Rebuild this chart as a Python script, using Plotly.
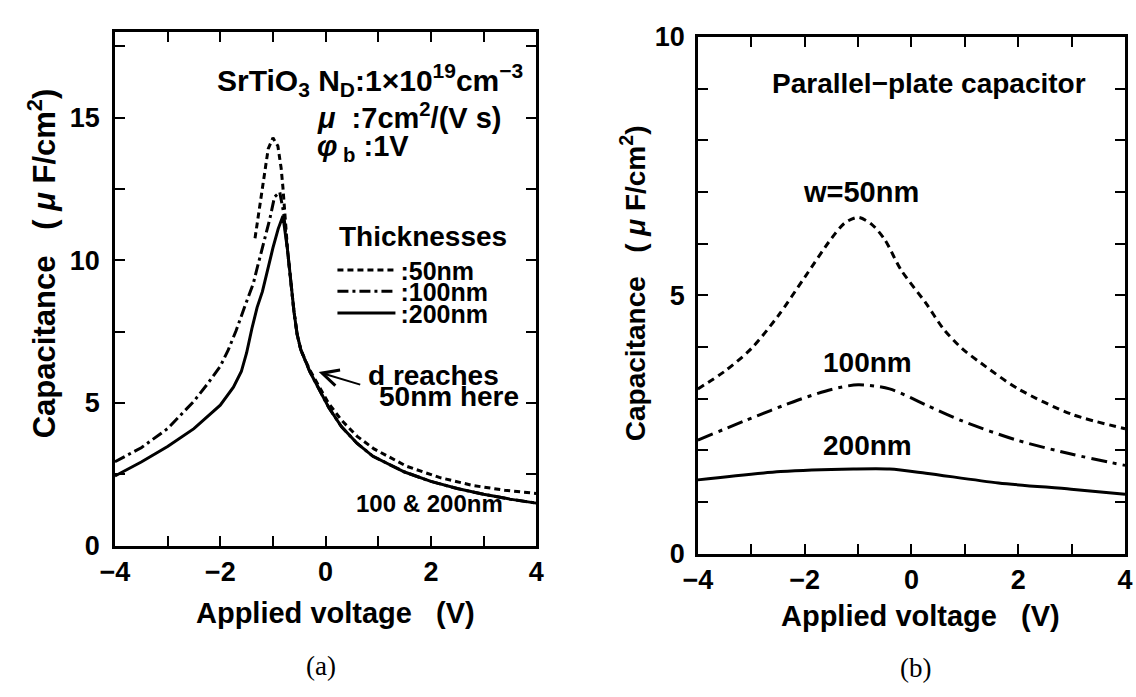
import plotly.graph_objects as go

# ---------------- data: panel (a) ----------------
a_x_50 = [-1.34, -1.25, -1.15, -1.09, -1.0, -0.906, -0.843, -0.81, -0.72, -0.66, -0.6, -0.54,
          -0.47, -0.3, -0.13, 0.06, 0.3, 0.6, 0.92, 1.54, 2.16, 2.79, 3.4, 4.0]
a_y_50 = [10.77, 11.88, 13.11, 13.9, 14.29, 14.0, 13.22, 12.55, 10.32, 9.2, 8.2, 7.4,
          6.86, 6.15, 5.6, 4.98, 4.40, 3.83, 3.39, 2.78, 2.39, 2.11, 1.94, 1.83]

a_x_100 = [-4.0, -3.5, -3.0, -2.5, -2.25, -2.0, -1.85, -1.7, -1.55, -1.45, -1.37, -1.31, -1.18,
           -1.06, -0.97, -0.87, -0.8, -0.72, -0.66, -0.6, -0.54, -0.47, -0.3, -0.13, 0.06, 0.3,
           0.6, 0.9, 1.5, 2.0, 2.5, 3.0, 3.5, 4.0]
a_y_100 = [2.94, 3.43, 4.1, 5.06, 5.65, 6.28, 6.85, 7.53, 8.3, 8.8, 9.2, 9.65, 10.54,
           11.44, 12.22, 12.39, 11.7, 10.32, 9.2, 8.2, 7.4, 6.86, 6.1, 5.5, 4.84, 4.17,
           3.58, 3.13, 2.58, 2.25, 2.0, 1.8, 1.63, 1.49]

a_x_200 = [-4.0, -3.5, -3.0, -2.5, -2.0, -1.75, -1.6, -1.5, -1.4, -1.3, -1.2, -1.1, -1.0, -0.9,
           -0.81, -0.72, -0.66, -0.6, -0.54, -0.47, -0.3, -0.13, 0.06, 0.3, 0.6, 0.9, 1.5,
           2.0, 2.5, 3.0, 3.5, 4.0]
a_y_200 = [2.44, 2.93, 3.47, 4.10, 4.92, 5.55, 6.1, 6.75, 7.6, 8.35, 8.9, 9.7, 10.43, 11.1,
           11.55, 10.32, 9.2, 8.2, 7.4, 6.86, 6.1, 5.5, 4.84, 4.17, 3.58, 3.13, 2.58,
           2.25, 2.0, 1.8, 1.63, 1.49]

# ---------------- data: panel (b) ----------------
b_x_50 = [-4.0, -3.5, -3.0, -2.5, -2.0, -1.5, -1.25, -1.0, -0.75, -0.5, -0.2, 0.27, 0.6, 0.95,
          1.3, 2.0, 3.0, 4.0]
b_y_50 = [3.19, 3.53, 3.97, 4.6, 5.35, 6.1, 6.4, 6.51, 6.38, 6.08, 5.5, 4.85, 4.35, 3.97,
          3.69, 3.19, 2.70, 2.42]

b_x_100 = [-4.0, -3.13, -2.11, -1.5, -1.0, -0.41, 0.27, 0.95, 1.97, 2.99, 4.0]
b_y_100 = [2.20, 2.57, 2.98, 3.18, 3.27, 3.19, 2.88, 2.57, 2.20, 1.93, 1.71]

b_x_200 = [-4.0, -2.45, -1.09, -0.41, 0.27, 1.63, 2.99, 4.0]
b_y_200 = [1.43, 1.59, 1.64, 1.64, 1.56, 1.37, 1.25, 1.15]

# ---------------- tick labels ----------------
x_tickvals = [-4, -3, -2, -1, 0, 1, 2, 3, 4]
x_ticktext = ["\u22124", "", "\u22122", "", "0", "", "2", "", "4"]
a_y_tickvals = [0, 2.5, 5, 7.5, 10, 12.5, 15, 17.5]
a_y_ticktext = ["0", "", "5", "", "10", "", "15", ""]
b_y_tickvals = [0, 1, 2, 3, 4, 5, 6, 7, 8, 9, 10]
b_y_ticktext = ["0", "", "", "", "", "5", "", "", "", "", "10"]

FONT = "Liberation Sans, Arial, Helvetica, sans-serif"
BLACK = "black"

fig = go.Figure()

# panel (a) traces
fig.add_trace(go.Scatter(x=a_x_100, y=a_y_100, mode="lines", name=":100nm", legend="legend2",
                         line=dict(color=BLACK, width=3, dash="11px,4px,3px,4px"),
                         xaxis="x", yaxis="y"))
fig.add_trace(go.Scatter(x=a_x_50, y=a_y_50, mode="lines", name=":50nm", legend="legend",
                         line=dict(color=BLACK, width=3, dash="6px,4px"),
                         xaxis="x", yaxis="y"))
fig.add_trace(go.Scatter(x=a_x_200, y=a_y_200, mode="lines", name=":200nm", legend="legend3",
                         line=dict(color=BLACK, width=3),
                         xaxis="x", yaxis="y"))

# panel (b) traces
fig.add_trace(go.Scatter(x=b_x_50, y=b_y_50, mode="lines", showlegend=False,
                         line=dict(color=BLACK, width=3, dash="7px,5px", shape="spline",
                                   smoothing=0.8),
                         xaxis="x2", yaxis="y2"))
fig.add_trace(go.Scatter(x=b_x_100, y=b_y_100, mode="lines", showlegend=False,
                         line=dict(color=BLACK, width=3, dash="16px,6px,4px,6px",
                                   shape="spline", smoothing=0.8),
                         xaxis="x2", yaxis="y2"))
fig.add_trace(go.Scatter(x=b_x_200, y=b_y_200, mode="lines", showlegend=False,
                         line=dict(color=BLACK, width=3, shape="spline", smoothing=0.8),
                         xaxis="x2", yaxis="y2"))

tickfont = dict(family=FONT, size=27, color=BLACK, weight="bold")
axis_common = dict(showline=True, linecolor=BLACK, linewidth=2.5, mirror="allticks",
                   ticks="inside", ticklen=10, tickwidth=2, tickcolor=BLACK,
                   showgrid=False, zeroline=False, tickfont=tickfont, tickmode="array")

W, H = 1136, 697
fig.update_layout(
    width=W, height=H, autosize=False,
    margin=dict(l=0, r=0, t=0, b=0),
    paper_bgcolor="white", plot_bgcolor="white",
    font=dict(family=FONT, color=BLACK),
    xaxis=dict(domain=[102 / W, 532 / W], range=[-4, 4], anchor="y",
               tickvals=x_tickvals, ticktext=x_ticktext, **axis_common),
    yaxis=dict(domain=[(H - 554.5) / H, (H - 18) / H], range=[0, 17.99], anchor="x",
               tickvals=a_y_tickvals, ticktext=a_y_ticktext, ticklabelstandoff=7,
               **axis_common),
    xaxis2=dict(domain=[697 / W, 1133 / W], range=[-4, 4], anchor="y2",
                tickvals=x_tickvals, ticktext=x_ticktext, **axis_common),
    yaxis2=dict(domain=[(H - 563) / H, (H - 23) / H], range=[0, 10], anchor="x2",
                tickvals=b_y_tickvals, ticktext=b_y_ticktext, ticklabelstandoff=5,
                **axis_common),
)

leg_common = dict(xref="paper", yref="paper", xanchor="left", yanchor="middle",
                  bgcolor="rgba(0,0,0,0)", borderwidth=0, itemwidth=58,
                  font=dict(family=FONT, size=25, color=BLACK, weight="bold"))
fig.update_layout(
    legend=dict(x=324 / W, y=(H - 266.7) / H, **leg_common),
    legend2=dict(x=324 / W, y=(H - 289) / H, **leg_common),
    legend3=dict(x=324 / W, y=(H - 311.7) / H, **leg_common),
)

def ann(text, x, y, size, xref="x", yref="y", xanchor="center", yanchor="middle",
        bold=True, family=FONT, angle=0):
    return dict(text=text, x=x, y=y, xref=xref, yref=yref, xanchor=xanchor, yanchor=yanchor,
                showarrow=False, textangle=angle,
                font=dict(family=family, size=size, color=BLACK,
                          weight="bold" if bold else "normal"))

annotations = [
    # panel (a) texts
    ann("SrTiO<sub>3</sub> N<sub>D</sub>:1\u00d710<sup>19</sup>cm<sup>\u22123</sup>", 3.78, 16.3, 30,
        xanchor="right"),
    ann("<i>\u03bc</i>  :7cm<sup>2</sup>/(V s)", -0.2, 15.05, 29, xanchor="left"),
    ann("<i>\u03c6</i><sub> b</sub> :1V", -0.2, 13.95, 29, xanchor="left"),
    ann("Thicknesses", 0.22, 10.82, 28, xanchor="left"),
    ann("d reaches", 2.05, 5.96, 28),
    ann("50nm here", 2.34, 5.24, 28),
    ann("100 &amp; 200nm", 1.97, 1.49, 24),
    # panel (b) texts
    ann("Parallel\u2212plate capacitor", 0.33, 9.1, 28, xref="x2", yref="y2"),
    ann("w=50nm", -0.94, 7.0, 29, xref="x2", yref="y2"),
    ann("100nm", -0.83, 3.70, 28, xref="x2", yref="y2"),
    ann("200nm", -0.83, 2.09, 28, xref="x2", yref="y2"),
    # axis titles
    ann("Applied voltage   (V)", 327 / W, (H - 625) / H, 29, xref="paper", yref="paper"),
    ann("Applied voltage   (V)", 924 / W, (H - 628) / H, 29, xref="paper", yref="paper"),
    ann("Capacitance   ( <i>\u03bc</i> F/cm<sup>2</sup>)", 27 / W, (H - 260) / H, 31,
        xref="paper", yref="paper", angle=-90),
    ann("Capacitance   ( <i>\u03bc</i> F/cm<sup>2</sup>)", 631 / W, (H - 280) / H, 28,
        xref="paper", yref="paper", angle=-90),
    # panel labels
    ann("(a)", 312 / W, (H - 680) / H, 27, xref="paper", yref="paper", bold=False,
        family="Liberation Serif, Times New Roman, serif"),
    ann("(b)", 919 / W, (H - 682) / H, 27, xref="paper", yref="paper", bold=False,
        family="Liberation Serif, Times New Roman, serif"),
]

# arrow pointing at the curve
annotations.append(dict(x=-0.13, y=6.08, xref="x", yref="y", ax=43, ay=13, axref="pixel",
                        ayref="pixel", text="", showarrow=True, arrowhead=5, arrowsize=1.6,
                        arrowwidth=2, arrowcolor=BLACK))

fig.update_layout(annotations=annotations)

fig.write_html("out.html")
